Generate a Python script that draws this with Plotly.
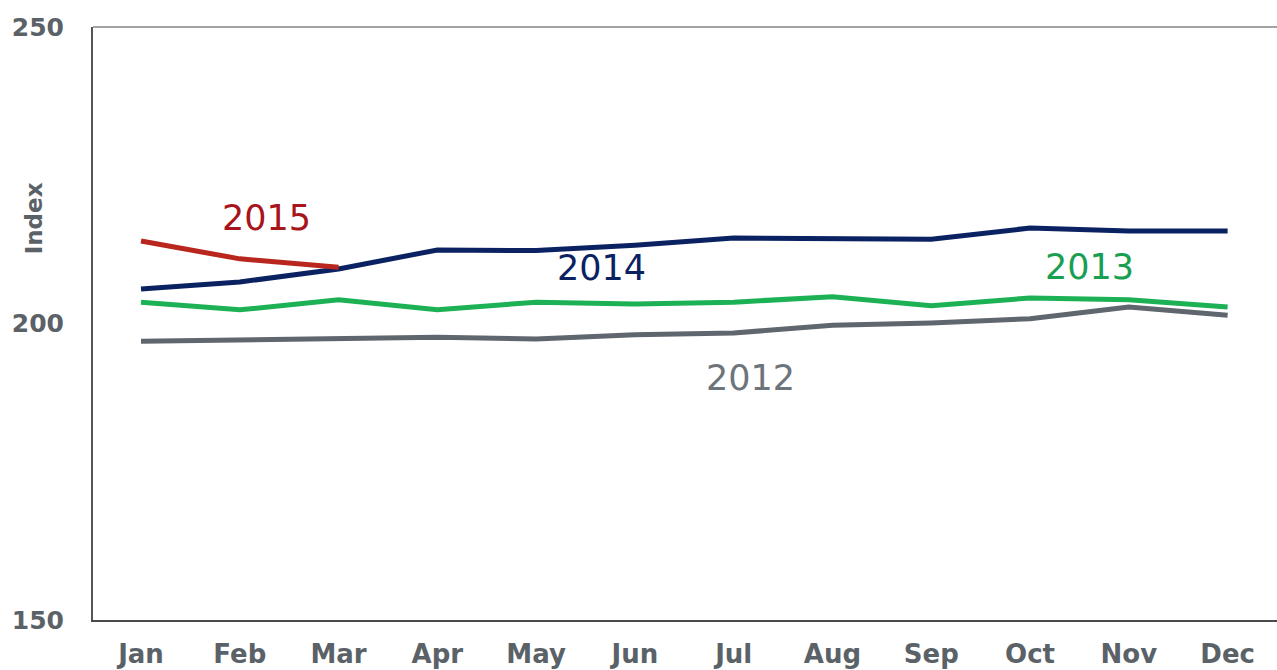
import plotly.graph_objects as go

months = ["Jan", "Feb", "Mar", "Apr", "May", "Jun", "Jul", "Aug", "Sep", "Oct", "Nov", "Dec"]
y2012 = [197.0, 197.2, 197.6, 197.7, 197.4, 198.1, 198.4, 199.7, 200.1, 200.8, 202.8, 201.4]
y2013 = [203.6, 202.3, 204.0, 202.3, 203.6, 203.3, 203.6, 204.5, 203.0, 204.3, 204.0, 202.8]
y2014 = [205.8, 207.0, 209.2, 212.4, 212.3, 213.2, 214.4, 214.2, 214.2, 216.1, 215.6, 215.6]
y2015 = [213.9, 210.9, 209.5]
y_ticks = [150, 200, 250]

series = [
    ("2012", y2012, "#5f666d", "#6d747a", 6.17, 190.8),
    ("2013", y2013, "#1db155", "#1a9f52", 9.6, 209.5),
    ("2014", y2014, "#0b2262", "#0b2262", 4.66, 209.4),
    ("2015", y2015, "#b8261d", "#a8141c", 1.27, 217.8),
]

fig = go.Figure()
for name, ys, col, lcol, lx, ly in series:
    fig.add_trace(go.Scatter(
        x=list(range(len(ys))), y=ys, mode="lines", name=name,
        line=dict(color=col, width=5), showlegend=False, hoverinfo="skip"))
    fig.add_annotation(x=lx, y=ly, text=name, showarrow=False,
                       font=dict(family="DejaVu Sans", size=35, color=lcol))

fig.add_shape(type="line", xref="paper", yref="paper", x0=0, x1=1, y0=1, y1=1,
              line=dict(color="#a0a3a3", width=2))

# y-axis title positioned as in the reference (not centred on the axis)
fig.add_annotation(xref="paper", yref="y", x=-0.0495, y=217.8, text="<b>Index</b>",
                   textangle=-90, showarrow=False, xanchor="center",
                   font=dict(family="DejaVu Sans", size=23, color="#5a6268"))

fig.update_layout(
    width=1277, height=670,
    margin=dict(l=93, r=0, t=27, b=50),
    paper_bgcolor="white", plot_bgcolor="white",
    font=dict(family="DejaVu Sans"),
    xaxis=dict(
        range=[-0.486, 11.5], tickmode="array",
        tickvals=list(range(12)), ticktext=months,
        showgrid=False, zeroline=False, automargin=False,
        showline=True, linecolor="#4a4a4a", linewidth=2,
        tickfont=dict(family="DejaVu Sans", size=26, color="#5a6268", weight="bold"),
        ticks="", ticklabelstandoff=10,
    ),
    yaxis=dict(
        range=[150, 250], tickmode="array", tickvals=y_ticks,
        showgrid=False, zeroline=False, automargin=False,
        showline=True, linecolor="#555555", linewidth=2,
        tickfont=dict(family="DejaVu Sans", size=25, color="#5a6268", weight="bold"),
        ticks="", ticklabelstandoff=22,
    ),
)

fig.write_html("out.html")
